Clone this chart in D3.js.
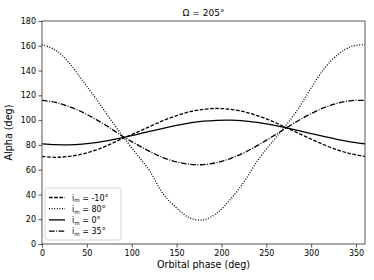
<!DOCTYPE html>
<html>
<head>
<meta charset="UTF-8">
<script src="https://d3js.org/d3.v7.min.js"></script>
<style>
  body { margin: 0; background: #fff; }
  text { font-family: "DejaVu Sans", sans-serif; fill: #000; }
</style>
</head>
<body>
<div id="chart"></div>
<script>
// orbital phase samples (deg)
const phase = [0,15,30,45,60,75,90,105,120,135,150,165,180,195,210,225,240,255,270,285,300,315,330,345,360];
// alpha (deg) for each inclination
const alphaM10 = [70.7,70.0,70.7,72.6,75.8,80.2,85.2,89.9,94.8,99.6,103.6,106.8,108.7,109.4,108.7,106.8,103.6,99.6,94.6,89.7,84.6,79.9,75.8,72.6,70.7];
const alpha80  = [161,156.5,146.5,132,117.5,102,87,73,59,40.5,29,21,19.5,25,36,50,67,81,94,108.5,126,142,153,159.5,161];
const alpha0   = [80.9,80.2,80.0,80.6,81.8,83.6,85.8,88.3,90.9,93.4,95.7,97.7,99.1,99.8,100,99.4,98.2,96.4,94.2,91.7,89.1,86.6,84.3,82.3,80.9];
const alpha35  = [115.9,114.3,111.0,106.4,100.6,94.1,86.8,80.7,74.7,69.8,66.2,64.3,64.1,65.7,69.0,73.6,79.4,85.9,92.7,99.3,105.3,110.2,113.8,115.7,115.9];
const seriesNames = ["-10°", "80°", "0°", "35°"];
const xTicks = [0,50,100,150,200,250,300,350];
const yTicks = [0,20,40,60,80,100,120,140,160,180];

const W = 374, H = 280;
const m = {left: 42, right: 9, top: 21, bottom: 36};
const svg = d3.select("#chart").append("svg").attr("width", W).attr("height", H);

const x = d3.scaleLinear().domain([0, 360]).range([m.left, W - m.right]);
const y = d3.scaleLinear().domain([0, 180]).range([H - m.bottom, m.top]);

svg.append("clipPath").attr("id", "clip").append("rect")
  .attr("x", m.left).attr("y", m.top)
  .attr("width", W - m.left - m.right).attr("height", H - m.top - m.bottom);

const dashes = ["3.6,1.6", "1,1.6", null, "5.6,1.5,1,1.5"];
const allSeries = [alphaM10, alpha80, alpha0, alpha35];

const line = d3.line().x(d => x(d[0])).y(d => y(d[1])).curve(d3.curveCatmullRom);
allSeries.forEach((vals, i) => {
  svg.append("path")
    .attr("clip-path", "url(#clip)")
    .attr("d", line(phase.map((p, k) => [p, vals[k]])))
    .attr("fill", "none").attr("stroke", "#000").attr("stroke-width", 1.3)
    .attr("stroke-dasharray", dashes[i]);
});

// axes
const xAxis = svg.append("g").attr("transform", `translate(0,${H - m.bottom})`)
  .call(d3.axisBottom(x).tickValues(xTicks).tickSize(3.5).tickPadding(2.5));
const yAxis = svg.append("g").attr("transform", `translate(${m.left},0)`)
  .call(d3.axisLeft(y).tickValues(yTicks).tickSize(3.5).tickPadding(2.5));
[xAxis, yAxis].forEach(g => {
  g.select(".domain").remove();
  g.selectAll("line").attr("stroke", "#222").attr("stroke-width", 0.8);
  g.selectAll("text").attr("font-size", 8).attr("font-family", "DejaVu Sans").attr("fill", "#000");
});

svg.append("rect")
  .attr("x", m.left).attr("y", m.top)
  .attr("width", W - m.left - m.right).attr("height", H - m.top - m.bottom)
  .attr("fill", "none").attr("stroke", "#444").attr("stroke-width", 0.9);

// title and labels
svg.append("text").attr("x", (m.left + W - m.right) / 2).attr("y", 16)
  .attr("text-anchor", "middle").attr("font-size", 9).text("Ω = 205°");
svg.append("text").attr("x", (m.left + W - m.right) / 2).attr("y", 268)
  .attr("text-anchor", "middle").attr("font-size", 9.6).text("Orbital phase (deg)");
svg.append("text")
  .attr("transform", `translate(12,${(m.top + H - m.bottom) / 2}) rotate(-90)`)
  .attr("text-anchor", "middle").attr("font-size", 9.6).text("Alpha (deg)");

// legend
const leg = svg.append("g").attr("transform", "translate(45,188)");
leg.append("rect").attr("width", 76).attr("height", 52).attr("rx", 2)
  .attr("fill", "#fff").attr("fill-opacity", 0.85)
  .attr("stroke", "#ccc").attr("stroke-width", 0.8);
seriesNames.forEach((name, i) => {
  const cy = 9.5 + i * 11.2;
  leg.append("line").attr("x1", 4).attr("x2", 20).attr("y1", cy).attr("y2", cy)
    .attr("stroke", "#000").attr("stroke-width", 1.3).attr("stroke-dasharray", dashes[i]);
  const t = leg.append("text").attr("x", 27).attr("y", cy + 3).attr("font-size", 8);
  t.append("tspan").text("i");
  t.append("tspan").attr("font-size", 5.6).attr("dy", 1.8).text("m");
  t.append("tspan").attr("dy", -1.8).text(" = " + name);
});
</script>
</body>
</html>
